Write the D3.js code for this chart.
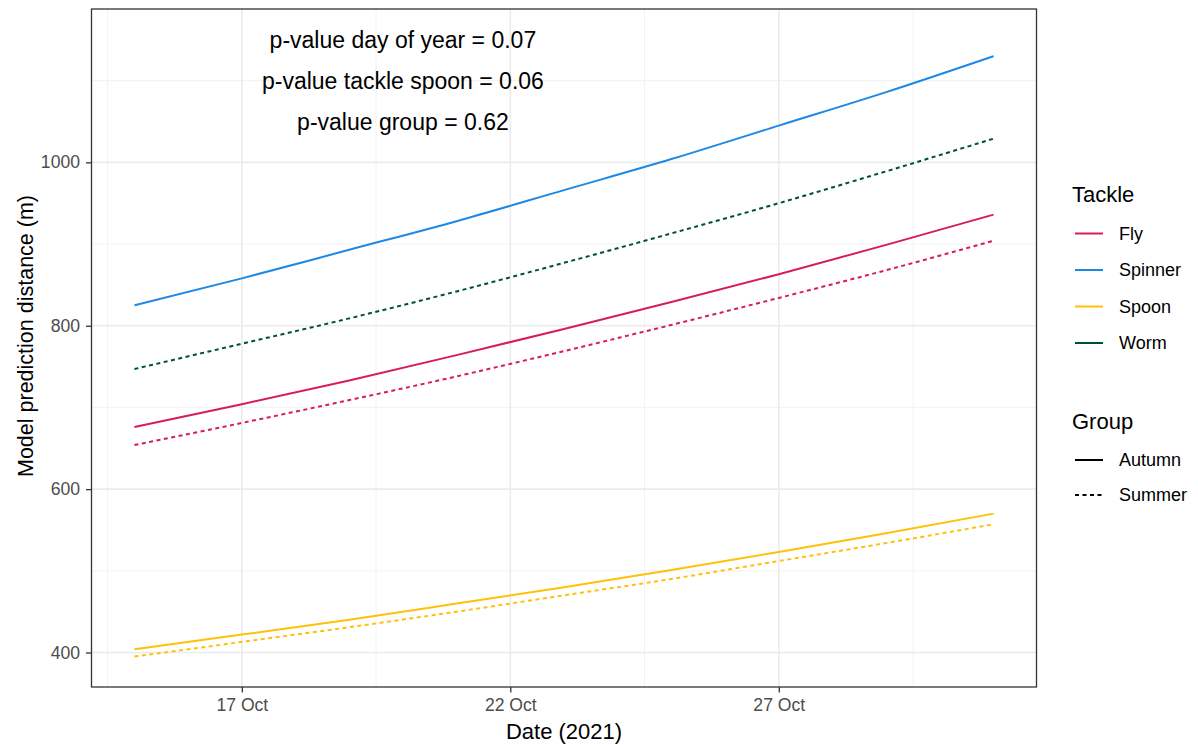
<!DOCTYPE html>
<html>
<head>
<meta charset="utf-8">
<script src="https://cdn.jsdelivr.net/npm/d3@7"></script>
<style>
  html, body { margin: 0; padding: 0; background: #fff; }
  svg { display: block; font-family: "Liberation Sans", Arial, sans-serif; }
</style>
</head>
<body>
<svg id="chart" width="1198" height="745"></svg>
<script>
// ---- Data ----
const dates = ["2021-10-15","2021-10-17","2021-10-19","2021-10-21","2021-10-23","2021-10-25","2021-10-27","2021-10-29","2021-10-31"];
const flyAutumn     = [676, 704, 733, 764, 796, 829, 863, 899, 936];
const flySummer     = [654, 681, 709, 738, 769, 801, 834, 868, 904];
const spinnerAutumn = [825, 858, 893, 928, 966, 1004, 1045, 1086, 1130];
const spoonAutumn   = [404, 422, 440, 460, 480, 501, 523, 546, 570];
const spoonSummer   = [395, 413, 431, 450, 470, 490, 512, 534, 557];
const wormSummer    = [747, 778, 809, 842, 877, 913, 950, 989, 1029];

const tackles = ["Fly", "Spinner", "Spoon", "Worm"];
const tackleColors = ["#D81B60", "#1E88E5", "#FFC107", "#004D40"];
const groups = ["Autumn", "Summer"];

const xTickDates = ["2021-10-17", "2021-10-22", "2021-10-27"];
const xTickLabels = ["17 Oct", "22 Oct", "27 Oct"];
const xMinorDates = ["2021-10-14T12:00", "2021-10-19T12:00", "2021-10-24T12:00", "2021-10-29T12:00"];
const yTicks = [400, 600, 800, 1000];
const yMinor = [500, 700, 900, 1100];

const annotations = ["p-value day of year = 0.07", "p-value tackle spoon = 0.06", "p-value group = 0.62"];
const annotationY = [1150, 1100, 1050];
const annotationDate = "2021-10-20";

const seriesList = [
  { tackle: "Fly",     group: "Autumn", values: flyAutumn },
  { tackle: "Fly",     group: "Summer", values: flySummer },
  { tackle: "Spinner", group: "Autumn", values: spinnerAutumn },
  { tackle: "Spoon",   group: "Autumn", values: spoonAutumn },
  { tackle: "Spoon",   group: "Summer", values: spoonSummer },
  { tackle: "Worm",    group: "Summer", values: wormSummer }
];

// ---- Setup ----
const parse = s => new Date(s.length > 10 ? s + ":00Z" : s + "T00:00:00Z");
const first = parse(dates[0]), last = parse(dates[dates.length - 1]);
const pad = (last - first) * 0.05;

const panel = { left: 91.5, right: 1036.5, top: 9, bottom: 687 };
const x = d3.scaleUtc().domain([new Date(+first - pad), new Date(+last + pad)]).range([panel.left, panel.right]);
const y = d3.scaleLinear().domain([357.8, 1187.7]).range([panel.bottom, panel.top]);
const color = d3.scaleOrdinal().domain(tackles).range(tackleColors);
const dash = d3.scaleOrdinal().domain(groups).range(["none", "4,3.5"]);

const svg = d3.select("#chart");
const grid = svg.append("g");

// minor grid
grid.selectAll(".xminor").data(xMinorDates).join("line")
  .attr("x1", d => x(parse(d))).attr("x2", d => x(parse(d)))
  .attr("y1", panel.top).attr("y2", panel.bottom)
  .attr("stroke", "#F2F2F2").attr("stroke-width", 1);
grid.selectAll(".yminor").data(yMinor).join("line")
  .attr("y1", d => y(d)).attr("y2", d => y(d))
  .attr("x1", panel.left).attr("x2", panel.right)
  .attr("stroke", "#F2F2F2").attr("stroke-width", 1);
// major grid
grid.selectAll(".xmajor").data(xTickDates).join("line")
  .attr("x1", d => x(parse(d))).attr("x2", d => x(parse(d)))
  .attr("y1", panel.top).attr("y2", panel.bottom)
  .attr("stroke", "#EBEBEB").attr("stroke-width", 1.6);
grid.selectAll(".ymajor").data(yTicks).join("line")
  .attr("y1", d => y(d)).attr("y2", d => y(d))
  .attr("x1", panel.left).attr("x2", panel.right)
  .attr("stroke", "#EBEBEB").attr("stroke-width", 1.6);

// ---- Lines ----
const line = d3.line()
  .x((d, i) => x(parse(dates[i])))
  .y(d => y(d))
  .curve(d3.curveMonotoneX);

svg.append("g").selectAll("path").data(seriesList).join("path")
  .attr("d", d => line(d.values))
  .attr("fill", "none")
  .attr("stroke", d => color(d.tackle))
  .attr("stroke-width", 2)
  .attr("stroke-dasharray", d => dash(d.group));

// ---- Annotations ----
svg.append("g").selectAll("text").data(annotations).join("text")
  .attr("x", x(parse(annotationDate)))
  .attr("y", (d, i) => y(annotationY[i]))
  .attr("dy", "0.35em")
  .attr("text-anchor", "middle")
  .attr("font-size", 23)
  .attr("fill", "#000")
  .text(d => d);

// ---- Panel border ----
svg.append("rect")
  .attr("x", panel.left).attr("y", panel.top)
  .attr("width", panel.right - panel.left).attr("height", panel.bottom - panel.top)
  .attr("fill", "none").attr("stroke", "#333333").attr("stroke-width", 1.3);

// ---- Axes ----
const xAxis = d3.axisBottom(x)
  .tickValues(xTickDates.map(parse))
  .tickFormat((d, i) => xTickLabels[i])
  .tickSize(5.5).tickPadding(6);
const gx = svg.append("g").attr("transform", `translate(0,${panel.bottom})`).call(xAxis);
gx.select(".domain").remove();
gx.selectAll(".tick line").attr("stroke", "#333333").attr("stroke-width", 1.3);
gx.selectAll(".tick text").attr("font-size", 17.6).attr("fill", "#4D4D4D")
  .attr("font-family", "Liberation Sans, Arial, sans-serif");

const yAxis = d3.axisLeft(y).tickValues(yTicks).tickFormat(d3.format("d")).tickSize(5.5).tickPadding(6);
const gy = svg.append("g").attr("transform", `translate(${panel.left},0)`).call(yAxis);
gy.select(".domain").remove();
gy.selectAll(".tick line").attr("stroke", "#333333").attr("stroke-width", 1.3);
gy.selectAll(".tick text").attr("font-size", 17.6).attr("fill", "#4D4D4D")
  .attr("font-family", "Liberation Sans, Arial, sans-serif");

// Axis titles
svg.append("text")
  .attr("x", (panel.left + panel.right) / 2).attr("y", 739)
  .attr("text-anchor", "middle").attr("font-size", 22).attr("fill", "#000")
  .text("Date (2021)");
svg.append("text")
  .attr("transform", "translate(33,336) rotate(-90)")
  .attr("text-anchor", "middle").attr("font-size", 21.5).attr("fill", "#000")
  .text("Model prediction distance (m)");

// ---- Legends ----
const lg = svg.append("g");
lg.append("text").attr("x", 1072).attr("y", 202).attr("font-size", 22).attr("fill", "#000").text("Tackle");
const tItems = lg.selectAll(".titem").data(tackles).join("g")
  .attr("transform", (d, i) => `translate(0,${233.5 + i * 36.5})`);
tItems.append("line").attr("x1", 1075).attr("x2", 1103).attr("y1", 0).attr("y2", 0)
  .attr("stroke", d => color(d)).attr("stroke-width", 2);
tItems.append("text").attr("x", 1119).attr("y", 0).attr("dy", "0.35em")
  .attr("font-size", 18).attr("fill", "#000").text(d => d);

lg.append("text").attr("x", 1072).attr("y", 429).attr("font-size", 22).attr("fill", "#000").text("Group");
const gItems = lg.selectAll(".gitem").data(groups).join("g")
  .attr("transform", (d, i) => `translate(0,${460 + i * 35})`);
gItems.append("line").attr("x1", 1075).attr("x2", 1103).attr("y1", 0).attr("y2", 0)
  .attr("stroke", "#000").attr("stroke-width", 2)
  .attr("stroke-dasharray", d => dash(d));
gItems.append("text").attr("x", 1119).attr("y", 0).attr("dy", "0.35em")
  .attr("font-size", 18).attr("fill", "#000").text(d => d);
</script>
</body>
</html>
